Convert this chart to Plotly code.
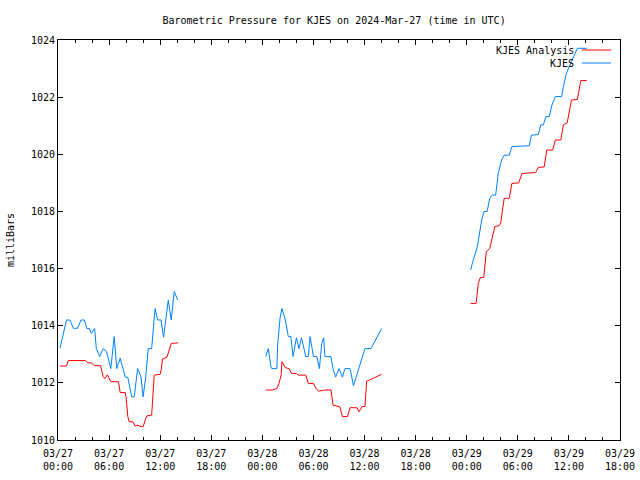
import pandas as pd
import plotly.graph_objects as go

BASE = "2024-03-27 00:00"

# hours after 2024-03-27 00:00 UTC; None marks a data gap
kjes_hours = [0.23, 1.0, 1.4, 1.8, 2.3, 2.7, 3.1, 3.4, 3.7, 3.9, 4.3, 4.5, 4.9, 5.3, 5.7, 6.1, 6.2, 6.6, 6.9, 7.3,
              7.9, 8.2, 8.65, 8.95, 9.35, 9.75, 10.0, 10.3, 10.6, 11.0, 11.4, 11.7, 12.1, 12.4, 12.95, 13.3, 13.65, 14.05,
              None,
              24.39, 24.7, 25.0, 25.1, 25.7, 25.8, 26.07, 26.3, 26.7, 27.05, 27.35, 27.6, 28.0, 28.3, 28.6, 29.1, 29.4,
              29.6, 30.0, 30.4, 30.7, 30.97, 31.2, 31.35, 32.05, 32.3, 32.6, 33.0, 33.4, 33.7, 34.3, 34.56, 34.7, 36.05,
              36.76, 38.0,
              None,
              48.47, 48.7, 49.25, 49.5, 49.76, 50.03, 50.4, 50.7, 51.0, 51.4, 51.7, 52.1, 52.4, 53.0, 53.3, 55.35, 55.6,
              56.4, 56.7, 57.0, 57.3, 57.7, 58.0, 58.4, 59.15, 59.35, 59.7, 60.3, 60.99, 62.1]
kjes_mb = [1013.21, 1014.2, 1014.2, 1013.91, 1013.91, 1014.2, 1014.2, 1013.9, 1013.9, 1013.73, 1013.9, 1013.2, 1012.92,
           1013.2, 1013.1, 1012.68, 1012.5, 1013.62, 1012.5, 1012.86, 1012.2, 1012.2, 1011.51, 1011.51, 1012.5, 1012.2,
           1011.51, 1012.2, 1013.2, 1013.2, 1014.6, 1014.2, 1014.2, 1013.6, 1014.9, 1014.2, 1015.2, 1014.9,
           None,
           1012.92, 1013.2, 1012.57, 1012.5, 1012.5, 1013.33, 1014.26, 1014.6, 1014.2, 1013.62, 1013.62, 1012.92,
           1013.58, 1013.2, 1013.58, 1012.92, 1012.92, 1013.62, 1012.92, 1012.92, 1012.5, 1013.38, 1013.58, 1012.92,
           1012.92, 1012.5, 1012.2, 1012.5, 1012.2, 1012.5, 1012.5, 1012.06, 1011.9, 1013.2, 1013.2, 1013.9,
           None,
           1015.95, 1016.24, 1016.77, 1017.23, 1017.7, 1018.0, 1018.0, 1018.46, 1018.57, 1018.57, 1019.33, 1019.8,
           1019.97, 1019.97, 1020.27, 1020.3, 1020.67, 1020.69, 1021.03, 1021.03, 1021.32, 1021.32, 1021.72, 1022.02,
           1022.02, 1022.37, 1022.83, 1023.24, 1023.71, 1023.71]

analysis_hours = [0.23, 1.0, 1.2, 3.2, 3.5, 3.9, 4.3, 5.0, 5.3, 5.5, 5.8, 6.2, 7.1, 7.3, 7.9, 8.0, 8.2, 8.35, 8.8, 9.05,
                  9.35, 9.75, 10.0, 10.4, 11.0, 11.3, 12.0, 12.15, 12.25, 12.8, 13.3, 14.1,
                  None,
                  24.4, 25.2, 25.7, 25.95, 26.2, 26.3, 26.7, 27.15, 27.4, 28.0, 28.2, 29.1, 29.4, 30.0, 30.3, 30.6, 31.3,
                  32.06, 32.3, 33.1, 33.4, 34.0, 34.3, 35.1, 35.35, 35.7, 36.05, 36.25, 36.6, 38.0,
                  None,
                  48.47, 49.1, 49.36, 49.6, 50.0, 50.3, 50.7, 51.3, 51.8, 52.0, 52.2, 52.4, 53.0, 53.3, 54.1, 54.5, 56.1,
                  56.4, 57.1, 57.4, 58.1, 58.4, 59.05, 59.35, 59.8, 60.3, 60.99, 61.4, 62.1]
analysis_mb = [1012.59, 1012.59, 1012.78, 1012.78, 1012.7, 1012.7, 1012.6, 1012.6, 1012.22, 1012.15, 1012.28, 1012.04,
               1012.04, 1011.66, 1011.66, 1011.49, 1010.82, 1010.64, 1010.64, 1010.49, 1010.52, 1010.47, 1010.47,
               1010.84, 1010.87, 1012.27, 1012.3, 1012.5, 1012.83, 1012.9, 1013.38, 1013.4,
               None,
               1011.75, 1011.75, 1011.8, 1011.98, 1012.27, 1012.74, 1012.53, 1012.5, 1012.33, 1012.33, 1012.27, 1012.27,
               1011.98, 1011.98, 1011.81, 1011.71, 1011.75, 1011.75, 1011.22, 1011.16, 1010.82, 1010.82, 1011.13,
               1011.13, 1010.99, 1011.17, 1011.17, 1012.06, 1012.1, 1012.3,
               None,
               1014.78, 1014.78, 1015.48, 1015.69, 1015.69, 1016.59, 1016.7, 1017.47, 1017.5, 1017.6, 1018.05, 1018.46,
               1018.46, 1018.98, 1019.0, 1019.33, 1019.36, 1019.54, 1019.56, 1020.15, 1020.15, 1020.5, 1020.5, 1021.03,
               1021.1, 1021.9, 1021.92, 1022.58, 1022.58]

series_names = ["KJES Analysis", "KJES"]
series_colors = ["#ff0000", "#0080ff"]


def to_time(hours):
    base = pd.Timestamp(BASE)
    return [None if h is None else base + pd.Timedelta(hours=h) for h in hours]


FONT = dict(family="DejaVu Sans Mono", size=10, color="black")

fig = go.Figure()
fig.add_trace(go.Scatter(x=to_time(analysis_hours), y=analysis_mb, mode="lines", name=series_names[0],
                         line=dict(color=series_colors[0], width=1), connectgaps=False))
fig.add_trace(go.Scatter(x=to_time(kjes_hours), y=kjes_mb, mode="lines", name=series_names[1],
                         line=dict(color=series_colors[1], width=1), connectgaps=False))

# gnuplot-style legend: text to the left of the line sample
legend_y = [0.975, 0.9425]
for name, color, ly in zip(series_names, series_colors, legend_y):
    fig.add_annotation(xref="paper", yref="paper", x=0.921, y=ly, text=name, showarrow=False,
                       xanchor="right", yanchor="middle", font=FONT)
    fig.add_shape(type="line", xref="paper", yref="paper", x0=0.932, x1=0.984, y0=ly, y1=ly,
                  line=dict(color=color, width=1))

fig.update_layout(
    width=640, height=480,
    margin=dict(l=58, r=20, t=40, b=40, autoexpand=False),
    plot_bgcolor="white", paper_bgcolor="white",
    showlegend=False,
    font=FONT,
    title=dict(text="Barometric Pressure for KJES on 2024-Mar-27 (time in UTC)", x=0.522, xanchor="center",
               y=0.958, yanchor="middle", font=FONT),
)
fig.update_xaxes(
    type="date", automargin=False,
    range=[pd.Timestamp("2024-03-27 00:00"), pd.Timestamp("2024-03-29 18:00")],
    tick0="2024-03-27 00:00", dtick=6 * 3600 * 1000, tickformat="%m/%d<br>%H:%M",
    showgrid=False, zeroline=False, showline=True, linecolor="black", linewidth=1, mirror="ticks",
    ticks="inside", ticklen=5, tickcolor="black", ticklabelstandoff=4,
    minor=dict(dtick=2 * 3600 * 1000, tick0="2024-03-27 00:00", ticks="inside", ticklen=3, tickcolor="black",
               showgrid=False),
    tickfont=FONT,
)
fig.update_yaxes(
    automargin=False,
    range=[1010, 1024], dtick=2, tick0=1010,
    showgrid=False, zeroline=False, showline=True, linecolor="black", linewidth=1, mirror="ticks",
    ticks="inside", ticklen=5, tickcolor="black",
    title=dict(text="milliBars", font=FONT, standoff=14),
    tickfont=FONT,
)

fig.write_html("out.html")
